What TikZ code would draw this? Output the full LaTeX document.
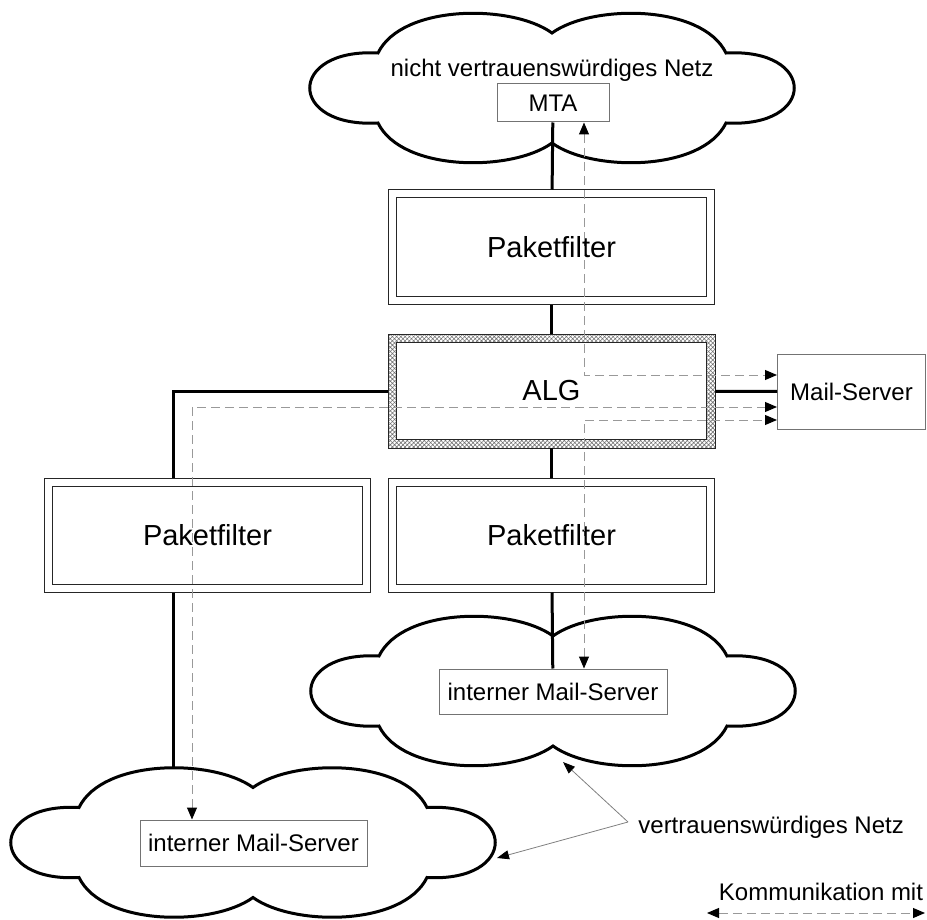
\documentclass[tikz,border=0pt]{standalone}
\usepackage{fontspec}
\setmainfont{Liberation Sans}
\usetikzlibrary{positioning,arrows.meta,calc,patterns.meta}
\tikzset{
  wolke/.style={draw=black,line width=1.5pt,fill=white},
  netz/.style={draw=black,line width=1.5pt},
  komm/.style={draw=black!40,line width=0.5pt,dash pattern=on 4.5pt off 2.5pt,
               {Triangle[length=6pt,width=5pt,color=black]}-{Triangle[length=6pt,width=5pt,color=black]}},
  hinweis/.style={draw=black!50,line width=0.4pt,-{Triangle[length=6pt,width=4.5pt,color=black]}},
  filter/.style={draw=black!85,double,double distance=3.5pt,line width=0.5pt,fill=white,
                 minimum width=159pt,minimum height=53pt,outer sep=2.25pt,
                 font=\fontsize{14.5pt}{17pt}\selectfont},
  algrand/.style={draw=black!85,line width=0.5pt,minimum width=163.5pt,minimum height=57pt,
                  pattern={Hatch[angle=45,distance=1.5pt,line width=0.3pt]},pattern color=black!55},
  algkern/.style={draw=black!85,line width=0.5pt,fill=white,minimum width=155pt,
                  minimum height=48.5pt,font=\fontsize{14.5pt}{17pt}\selectfont},
  server/.style={draw=black!55,line width=0.5pt,fill=white,inner sep=2pt,
                 font=\fontsize{12pt}{14pt}\selectfont},
  etikett/.style={font=\fontsize{12pt}{14pt}\selectfont},
  pics/netzwolke/.style={code={
    \draw[wolke] (-174,-35) .. controls (-150,-84) and (-40,-84) .. (0,-55)
      .. controls (40,-84) and (150,-84) .. (174,-35)
      .. controls (265,-40) and (265,40) .. (174,35)
      .. controls (150,84) and (40,84) .. (0,55)
      .. controls (-40,84) and (-150,84) .. (-174,35)
      .. controls (-265,40) and (-265,-40) .. cycle;
  }}
}
\begin{document}
\begin{tikzpicture}[x=0.5pt,y=-0.5pt]
\useasboundingbox (0,0) rectangle (927,920);

% Netze
\pic (oben)  at (552,88)    {netzwolke};
\pic (mitte) at (553,691)   {netzwolke};
\pic (unten) at (253,842.5) {netzwolke};

\node[etikett] (unsicher) at (552,70) {nicht vertrauenswürdiges Netz};
\node[server, minimum width=56pt, minimum height=19pt] (mta) at (553,103) {MTA};

\node[filter] (pfoben)  at (551.5,247) {Paketfilter};
\node[algrand] (alg)    at (551.5,391) {};
\node[algkern] (algtext) at (551.5,391) {ALG};
\node[filter] (pflinks) at (207.5,535) {Paketfilter};
\node[filter] (pfmitte) at (551.5,535) {Paketfilter};

\node[server, minimum width=74pt, minimum height=37.5pt] (mail) at (851.5,391.5) {Mail-Server};
\node[server, minimum width=114pt, minimum height=22.5pt] (intmitte) at (553,691.5) {interner Mail-Server};
\node[server, minimum width=113.5pt, minimum height=23pt] (intunten) at (253.5,843) {interner Mail-Server};

\node[etikett, anchor=west, inner sep=5pt] (vertraut) at (628,827) {vertrauenswürdiges Netz};
\node[etikett] (legende) at (821,892) {Kommunikation mit};

\coordinate (randlinks) at (173,768.5);
\coordinate (mitterand) at (563,762);
\coordinate (untenrand) at (497,858);
\coordinate (kommL) at (707,913);
\coordinate (kommR) at (925,913);

% Leitungen
\draw[netz] (mta) -- (pfoben);
\draw[netz] (pfoben) -- (alg);
\draw[netz] (alg) -- (pfmitte);
\draw[netz] (pfmitte) -- (intmitte);
\draw[netz] (alg) -- (mail);
\draw[netz] (alg.west) -| ($(pflinks.north)+(-34.5,0)$);
\draw[netz] ($(pflinks.south)+(-34.5,0)$) -- (randlinks);

% Kommunikation
\draw[komm] ($(mta.south)+(31,0)$) |- ($(mail.west)+(0,-16.5)$);
\draw[komm] ($(intunten.north)+(-61.5,0)$) |- ($(mail.west)+(0,15.5)$);
\draw[komm] ($(intmitte.north)+(31,0)$) |- ($(mail.west)+(0,28.5)$);
\draw[komm] (kommL) -- (kommR);

\draw[hinweis] ($(vertraut.west)+(0,-5)$) -- (mitterand);
\draw[hinweis] ($(vertraut.west)+(0,-5)$) -- (untenrand);
\end{tikzpicture}
\end{document}
